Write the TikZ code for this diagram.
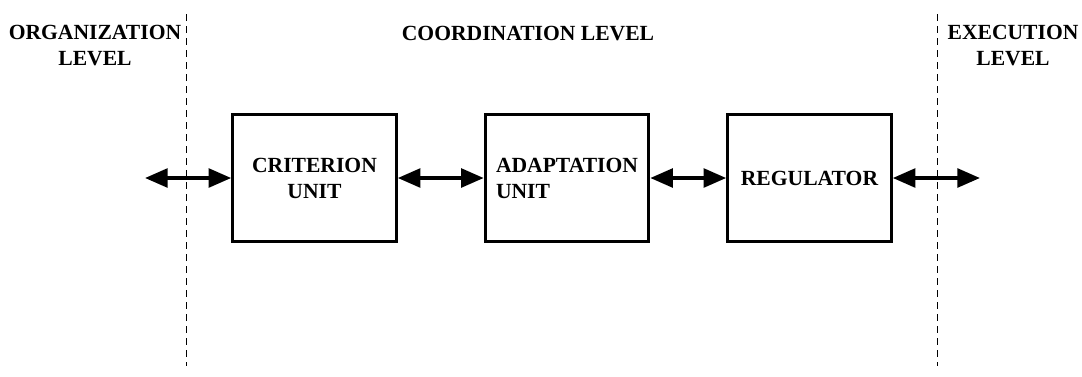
\documentclass[tikz,border=0pt]{standalone}
\usepackage{fontspec}
\setmainfont{Liberation Serif}
\usetikzlibrary{arrows.meta}
\begin{document}
\begin{tikzpicture}[x=0.75pt,y=-0.75pt,
	every node/.style={font=\fontsize{16.2}{19.5}\selectfont\bfseries},
	unitbox/.style={draw,line width=2.4pt,minimum width=122.5pt,minimum height=95.5pt,inner sep=0pt,align=center},
	link/.style={line width=2.8pt,{Triangle[length=17pt,width=14pt]}-{Triangle[length=17pt,width=14pt]}},
	border/.style={line width=0.7pt,dash pattern=on 5.5pt off 3.5pt}]
			\useasboundingbox (0,0) rectangle (1082,376);
			
			% level borders
			\draw [border] (186,14) coordinate (b1) -- (186,366);
			\draw [border] (937,14) coordinate (b2) -- (937,366);
			
			\node[align=center] (org) at (95,46) {ORGANIZATION\\LEVEL};
			\node (coord) at (528,34) {COORDINATION LEVEL};
			\node[align=center] (exe) at (1013,46) {EXECUTION\\LEVEL};
			
			% units
			\node[unitbox] (crit) at (314.5,178) {CRITERION\\UNIT};
			\node[unitbox,align=left] (adapt) at (567,178) {ADAPTATION\\UNIT};
			\node[unitbox] (reg) at (809.5,178) {REGULATOR};
			
			\coordinate (inl) at (145,178);
			\coordinate (outr) at (980,178);
			
			\draw [link] (inl) -- (crit);
			\draw [link] (crit) -- (adapt);
			\draw [link] (adapt) -- (reg);
			\draw [link] (reg) -- (outr);
\end{tikzpicture}
\end{document}
